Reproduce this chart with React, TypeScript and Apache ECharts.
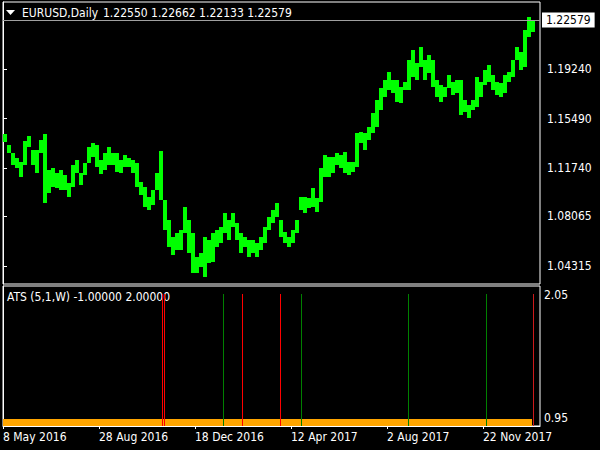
import React, { useEffect, useRef } from "react";
import * as echarts from "echarts";

const FONT = "'DejaVu Sans Condensed', 'Liberation Sans', sans-serif";

const symbolTitle = "EURUSD,Daily";
const quoteTitle = "1.22550 1.22662 1.22133 1.22579";
const indicatorTitle = "ATS (5,1,W) -1.00000 2.00000";
const lastPrice = 1.22579;

// each sample summarises 4 consecutive daily bars (high / low of the group)
const barStep = 4;
const highs = [
  1.1433, 1.1349, 1.1288, 1.125, 1.122, 1.1379, 1.1417, 1.1311, 1.1311, 1.1387,
  1.1433, 1.1159, 1.1174, 1.1136, 1.1159, 1.1121, 1.106, 1.1197, 1.1235, 1.1136,
  1.1212, 1.1334, 1.1364, 1.1349, 1.1235, 1.1288, 1.1334, 1.1288, 1.1288, 1.1235,
  1.1273, 1.125, 1.1235, 1.1212, 1.1068, 1.103, 1.0954, 1.1007, 1.1136, 1.1303,
  1.0931, 1.0779, 1.065, 1.068, 1.0703, 1.0878, 1.0779, 1.068, 1.0498, 1.0528,
  1.065, 1.0627, 1.068, 1.0703, 1.0726, 1.0832, 1.0779, 1.0832, 1.0756, 1.068,
  1.065, 1.0627, 1.0627, 1.0604, 1.065, 1.0726, 1.0802, 1.0855, 1.0908, 1.0779,
  1.0688, 1.065, 1.0703, 1.0779, 1.0954, 1.0954, 1.0946, 1.1022, 1.0946, 1.1174,
  1.1273, 1.1258, 1.1258, 1.1288, 1.1273, 1.1296, 1.122, 1.122, 1.144, 1.1448,
  1.144, 1.1486, 1.1592, 1.1691, 1.1782, 1.1843, 1.1904, 1.1843, 1.1843, 1.179,
  1.1828, 1.1995, 1.2071, 1.1972, 1.2094, 1.1995, 1.2033, 1.1995, 1.1843, 1.1805,
  1.179, 1.1881, 1.1828, 1.1843, 1.1843, 1.1691, 1.1653, 1.1691, 1.1866, 1.1828,
  1.1919, 1.1957, 1.1881, 1.1828, 1.182, 1.1881, 1.1904, 1.1995, 1.2094, 1.2056,
  1.2223, 1.2322, 1.2299,
];
const lows = [
  1.1372, 1.1288, 1.1197, 1.1174, 1.1106, 1.1197, 1.1334, 1.1197, 1.1136, 1.1288,
  1.0908, 1.0984, 1.103, 1.1022, 1.1007, 1.1007, 1.0954, 1.103, 1.1136, 1.1045,
  1.1121, 1.1212, 1.1258, 1.1182, 1.1129, 1.1159, 1.1197, 1.1197, 1.1144, 1.1136,
  1.1182, 1.1182, 1.1136, 1.103, 1.0969, 1.0878, 1.0855, 1.0893, 1.1007, 1.0931,
  1.0703, 1.0574, 1.0513, 1.0551, 1.0551, 1.068, 1.0528, 1.0376, 1.0376, 1.0422,
  1.0346, 1.0452, 1.046, 1.0574, 1.0604, 1.068, 1.0627, 1.0726, 1.0627, 1.0528,
  1.0574, 1.0498, 1.0528, 1.0498, 1.0551, 1.0604, 1.0703, 1.0756, 1.0802, 1.065,
  1.0604, 1.0574, 1.0604, 1.068, 1.0855, 1.0832, 1.087, 1.0878, 1.084, 1.0916,
  1.1106, 1.1106, 1.1136, 1.1197, 1.1174, 1.1136, 1.1121, 1.1144, 1.1182, 1.1364,
  1.1311, 1.1387, 1.144, 1.1486, 1.1615, 1.1714, 1.1767, 1.1744, 1.1676, 1.1668,
  1.1767, 1.1767, 1.1866, 1.1843, 1.1942, 1.1843, 1.1896, 1.179, 1.1714, 1.1676,
  1.1714, 1.1782, 1.1729, 1.1744, 1.1577, 1.16, 1.1554, 1.1615, 1.1638, 1.1714,
  1.1805, 1.1828, 1.1767, 1.1729, 1.1714, 1.1744, 1.1828, 1.1866, 1.1995, 1.1919,
  1.1942, 1.217, 1.2208,
];

const priceTicks = [1.04315, 1.08065, 1.1174, 1.1549, 1.1924];
const atsTicks = [0.95, 2.05];

const dateTickBars = [0, 96, 192, 288, 384, 480];
const dateTickLabels = [
  "8 May 2016",
  "28 Aug 2016",
  "18 Dec 2016",
  "12 Apr 2017",
  "2 Aug 2017",
  "22 Nov 2017",
];

const signalBars = [159, 161, 220, 239, 277, 298, 405, 483, 530];
const signalTypes = ["sell", "sell", "buy", "sell", "sell", "buy", "buy", "buy", "last"];
const signalLevel = 2.061;
const atsBaseLevel = 0.944;
const atsLastBar = 529;
const totalBars = 537;

const signalColors: Record<string, string> = {
  sell: "#ff0000",
  buy: "#008000",
  last: "#cc1a1a",
};

export default function App() {
  const ref = useRef<HTMLDivElement>(null);

  useEffect(() => {
    if (!ref.current) return;
    const chart = echarts.init(ref.current, null, { renderer: "svg" });

    const priceData = highs.map((h, i) => [i * barStep + barStep / 2, lows[i], h]);
    const signalData = signalBars.map((b, i) => [b, signalLevel, signalTypes[i]]);

    const option: any = {
      animation: false,
      backgroundColor: "#000000",
      textStyle: { fontFamily: FONT },
      grid: [
        {
          left: 3,
          top: 2,
          width: 537,
          height: 282,
          show: true,
          borderColor: "#ffffff",
          borderWidth: 1,
          backgroundColor: "transparent",
        },
        {
          left: 3,
          top: 286,
          width: 537,
          height: 140,
          show: true,
          borderColor: "#ffffff",
          borderWidth: 1,
          backgroundColor: "transparent",
        },
      ],
      xAxis: [
        {
          gridIndex: 0,
          type: "value",
          min: 0,
          max: totalBars,
          show: false,
          splitLine: { show: false },
        },
        {
          gridIndex: 1,
          type: "value",
          min: 0,
          max: totalBars,
          interval: 96,
          axisLine: { show: true, lineStyle: { color: "#ffffff" } },
          axisTick: { show: true, length: 3, lineStyle: { color: "#ffffff" } },
          splitLine: { show: false },
          axisLabel: {
            color: "#ffffff",
            fontFamily: FONT,
            fontSize: 12,
            margin: 5,
            align: "left",
            showMaxLabel: false,
            formatter: (v: number) => {
              const k = dateTickBars.indexOf(Math.round(v));
              return k >= 0 ? dateTickLabels[k] : "";
            },
          },
        },
      ],
      yAxis: [
        {
          gridIndex: 0,
          type: "value",
          position: "right",
          min: 1.0293,
          max: 1.2436,
          axisLine: { show: true, lineStyle: { color: "#ffffff" } },
          axisTick: {
            show: true,
            length: 4,
            customValues: priceTicks,
            lineStyle: { color: "#ffffff" },
          },
          splitLine: { show: false },
          axisLabel: {
            customValues: priceTicks,
            color: "#ffffff",
            fontFamily: FONT,
            fontSize: 12,
            margin: 7,
            formatter: (v: number) => v.toFixed(5),
          },
        },
        {
          gridIndex: 1,
          type: "value",
          position: "right",
          min: 0.881,
          max: 2.133,
          axisLine: { show: true, lineStyle: { color: "#ffffff" } },
          axisTick: { show: false },
          splitLine: { show: false },
          axisLabel: {
            customValues: atsTicks,
            color: "#ffffff",
            fontFamily: FONT,
            fontSize: 12,
            margin: 4,
            formatter: (v: number) => v.toFixed(2),
          },
        },
      ],
      series: [
        {
          name: "EURUSD",
          type: "custom",
          xAxisIndex: 0,
          yAxisIndex: 0,
          data: priceData,
          encode: { x: 0, y: [1, 2] },
          renderItem: (params: any, api: any) => {
            const x = api.value(0);
            const top = api.coord([x, api.value(2)]);
            const bot = api.coord([x, api.value(1)]);
            const w = api.size([barStep, 0])[0];
            const y0 = Math.round(top[1]);
            return {
              type: "rect",
              shape: {
                x: Math.round(top[0] - w / 2),
                y: y0,
                width: Math.round(w),
                height: Math.max(1, Math.round(bot[1]) - y0),
              },
              style: { fill: "#00ff00" },
            };
          },
          markLine: {
            silent: true,
            symbol: ["none", "none"],
            lineStyle: { color: "#a0a0a0", width: 1, type: "solid" },
            label: {
              show: true,
              position: "end",
              distance: 2,
              formatter: lastPrice.toFixed(5),
              backgroundColor: "#ffffff",
              color: "#000000",
              fontFamily: FONT,
              fontSize: 12,
              padding: [2, 4, 1, 4],
            },
            data: [{ yAxis: lastPrice }],
          },
        },
        {
          name: "ATS base",
          type: "custom",
          xAxisIndex: 1,
          yAxisIndex: 1,
          data: [[0, atsLastBar, atsBaseLevel]],
          renderItem: (params: any, api: any) => {
            const a = api.coord([api.value(0), api.value(2)]);
            const b = api.coord([api.value(1), api.value(2)]);
            const cs = params.coordSys;
            const bottom = cs.y + cs.height;
            const y0 = Math.round(a[1]);
            return {
              type: "rect",
              shape: {
                x: Math.round(a[0]),
                y: y0,
                width: Math.round(b[0] - a[0]),
                height: Math.round(bottom) - y0,
              },
              style: { fill: "#ffa500" },
            };
          },
        },
        {
          name: "ATS signals",
          type: "custom",
          xAxisIndex: 1,
          yAxisIndex: 1,
          data: signalData,
          z: 5,
          renderItem: (params: any, api: any) => {
            const p = api.coord([api.value(0), api.value(1)]);
            const cs = params.coordSys;
            const bottom = cs.y + cs.height;
            const y0 = Math.round(p[1]);
            const t = signalTypes[params.dataIndex];
            return {
              type: "rect",
              shape: {
                x: Math.round(p[0]),
                y: y0,
                width: 1,
                height: Math.round(bottom) - y0,
              },
              style: { fill: signalColors[t] },
            };
          },
        },
      ],
      graphic: [
        {
          type: "polygon",
          shape: { points: [[6, 10], [15, 10], [10.5, 15]] },
          style: { fill: "#ffffff" },
        },
        {
          type: "text",
          x: 22,
          y: 13,
          style: {
            text: symbolTitle,
            fill: "#ffffff",
            fontFamily: FONT,
            fontSize: 12,
            verticalAlign: "middle",
          },
        },
        {
          type: "text",
          x: 103,
          y: 13,
          style: {
            text: quoteTitle,
            fill: "#ffffff",
            fontFamily: FONT,
            fontSize: 12,
            verticalAlign: "middle",
          },
        },
        {
          type: "text",
          x: 7,
          y: 297,
          style: {
            text: indicatorTitle,
            fill: "#ffffff",
            fontFamily: FONT,
            fontSize: 12,
            verticalAlign: "middle",
          },
        },
      ],
    };

    chart.setOption(option);
    return () => chart.dispose();
  }, []);

  return (
    <div
      ref={ref}
      style={{ position: "fixed", left: 0, top: 0, width: 600, height: 450 }}
    />
  );
}
